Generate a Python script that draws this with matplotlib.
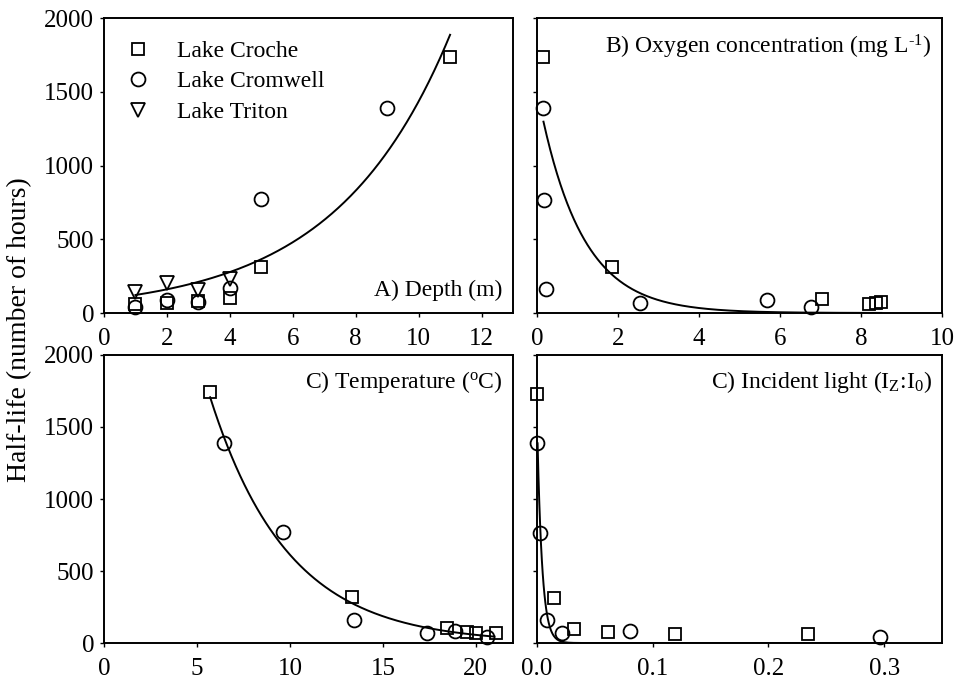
import numpy as np
import matplotlib
matplotlib.use("Agg")
import matplotlib.pyplot as plt

plt.rcParams['font.family'] = ['Liberation Serif', 'DejaVu Serif']
plt.rcParams['mathtext.fontset'] = 'custom'
plt.rcParams['mathtext.rm'] = 'Liberation Serif'
plt.rcParams['mathtext.it'] = 'Liberation Serif'
plt.rcParams['font.size'] = 17

# A) depth (m)
depth_croche_x = [1, 2, 3, 4, 5, 11]
depth_croche_y = [61, 68, 80, 100, 312, 1736]
depth_cromwell_x = [1, 2, 3, 4, 5, 9]
depth_cromwell_y = [41, 88, 75, 167, 772, 1390]
depth_triton_x = [1, 2, 3, 4]
depth_triton_y = [143, 205, 157, 229]
depth_fit = (92.8, 0.2738, 1.0, 11.0)  # a, b, xmin, xmax for a*exp(b*x)

# B) oxygen (mg/L)
oxy_croche_x = [0.16, 1.86, 7.03, 8.2, 8.37, 8.49]
oxy_croche_y = [1733, 314, 95, 61, 67, 72]
oxy_cromwell_x = [0.16, 0.17, 0.21, 2.54, 5.67, 6.77]
oxy_cromwell_y = [1388, 766, 160, 70, 88, 38]
oxy_fit = (1510, -0.95, 0.16, 8.5)

# C) temperature (C)
temp_croche_x = [5.71, 13.33, 18.45, 19.55, 20.03, 21.06]
temp_croche_y = [1741, 316, 102, 79, 67, 67]
temp_cromwell_x = [6.43, 9.61, 13.44, 17.4, 18.87, 20.58]
temp_cromwell_y = [1392, 769, 160, 72, 86, 40]
temp_fit = (6665, -0.2386, 5.71, 21.0)

# D) incident light (Iz:I0)
light_croche_x = [0.0, 0.0145, 0.0316, 0.061, 0.119, 0.234]
light_croche_y = [1730, 312, 98, 75, 63, 63]
light_cromwell_x = [0.0, 0.003, 0.009, 0.0217, 0.08, 0.296]
light_cromwell_y = [1386, 765, 160, 67, 86, 40]
light_fit = (1562, -238.0, 0.0005, 0.296)

fig = plt.figure(figsize=(9.56, 6.85), dpi=100)
W, H = 956, 685


def add_ax(l, t, r, b):
    return fig.add_axes([l / W, 1 - b / H, (r - l) / W, (b - t) / H])


axA = add_ax(104, 18, 513, 313)
axB = add_ax(537, 18, 942, 313)
axC = add_ax(104, 355, 513, 643)
axD = add_ax(537, 355, 942, 643)

mk = dict(linestyle='none', markerfacecolor='none', markeredgecolor='black',
          markeredgewidth=1.3, color='black', clip_on=False, zorder=3)


def draw(ax, croche, cromwell, fit, triton=None):
    ax.plot(*croche, marker='s', markersize=9, label='Lake Croche', **mk)
    ax.plot(*cromwell, marker='o', markersize=10, label='Lake Cromwell', **mk)
    if triton is not None:
        ax.plot(*triton, marker='v', markersize=10, label='Lake Triton', **mk)
    a, b, x0, x1 = fit
    xs = np.linspace(x0, x1, 400)
    ax.plot(xs, a * np.exp(b * xs), color='black', linewidth=1.4)
    ax.set_ylim(0, 2000)
    ax.set_yticks([0, 500, 1000, 1500, 2000])
    ax.tick_params(direction='out', top=False, right=False, length=3, width=1,
                   labelsize=18)
    ax.tick_params(axis='x', pad=8)
    ax.tick_params(axis='y', pad=4)
    for s in ax.spines.values():
        s.set_linewidth(1.4)


draw(axA, (depth_croche_x, depth_croche_y), (depth_cromwell_x, depth_cromwell_y),
     depth_fit, (depth_triton_x, depth_triton_y))
axA.set_xlim(0, 13)
axA.set_xticks([0, 2, 4, 6, 8, 10, 12])
axA.text(0.975, 0.04, 'A) Depth (m)', transform=axA.transAxes, ha='right', va='bottom', fontsize=17)
axA.legend(loc='upper left', frameon=False, fontsize=17, handlelength=1.0,
           handletextpad=1.15, labelspacing=0.38, borderaxespad=0.5, borderpad=0.45)

draw(axB, (oxy_croche_x, oxy_croche_y), (oxy_cromwell_x, oxy_cromwell_y), oxy_fit)
axB.set_xlim(0, 10)
axB.set_xticks([0, 2, 4, 6, 8, 10])
axB.set_yticklabels([])
axB.text(0.975, 0.95, 'B) Oxygen concentration (mg L$^{\\text{-1}}$)', transform=axB.transAxes,
         ha='right', va='top', fontsize=17)

draw(axC, (temp_croche_x, temp_croche_y), (temp_cromwell_x, temp_cromwell_y), temp_fit)
axC.set_xlim(0, 22)
axC.set_xticks([0, 5, 10, 15, 20])
axC.text(0.975, 0.95, 'C) Temperature ($^{\\rm o}$C)', transform=axC.transAxes,
         ha='right', va='top', fontsize=17)

draw(axD, (light_croche_x, light_croche_y), (light_cromwell_x, light_cromwell_y), light_fit)
axD.set_xlim(0, 0.35)
axD.set_xticks([0.0, 0.1, 0.2, 0.3])
axD.set_xticklabels(['0.0', '0.1', '0.2', '0.3'])
axD.set_yticklabels([])
axD.text(0.975, 0.95, 'C) Incident light (I$_{\\rm Z}$:I$_{\\rm 0}$)', transform=axD.transAxes,
         ha='right', va='top', fontsize=17)

fig.text(20 / W, 1 - 330 / H, 'Half-life (number of hours)', rotation=90,
         ha='center', va='center', fontsize=20)

fig.savefig('out.png', dpi=100)
